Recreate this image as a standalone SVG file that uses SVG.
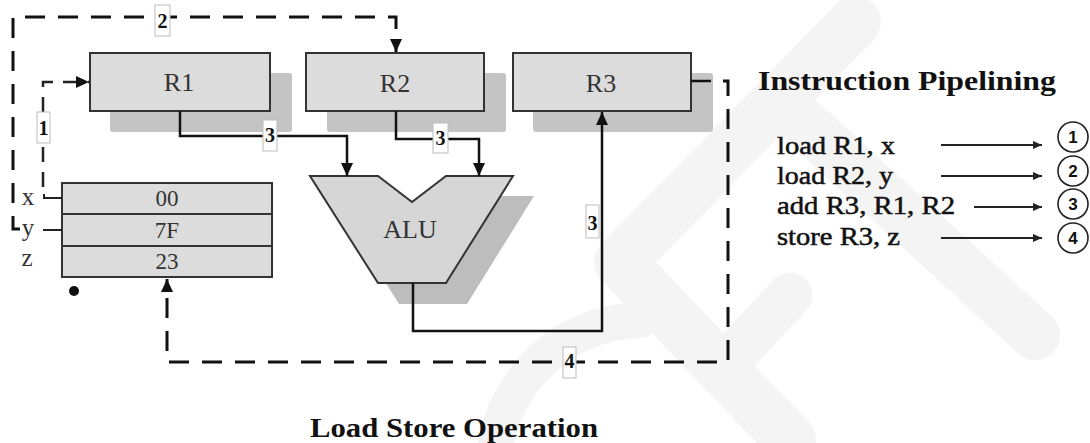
<svg xmlns="http://www.w3.org/2000/svg" width="1090" height="443" viewBox="0 0 1090 443">
<defs>
<style>
.wm{fill:none;stroke:#f4f4f4;stroke-linecap:round;stroke-linejoin:round}
.box{fill:#dcdcdc;stroke:#333;stroke-width:2}
.shadow{fill:#c4c4c4}
.mono{font-family:"Liberation Serif","DejaVu Serif",serif;fill:#333;text-anchor:middle}
.lbl{fill:#fff;stroke:#bbb;stroke-width:1}
.num{font-family:"Liberation Serif","DejaVu Serif",serif;font-weight:bold;font-size:20px;fill:#111;text-anchor:middle}
.solid{fill:none;stroke:#111;stroke-width:2.5}
.dash{fill:none;stroke:#111;stroke-width:3;stroke-dasharray:20 13}
.dash2{fill:none;stroke:#222;stroke-width:2.5;stroke-dasharray:15 10}
.thin{fill:none;stroke:#222;stroke-width:2}
.instr{font-family:"Liberation Serif","DejaVu Serif",serif;font-size:25px;fill:#111;stroke:#111;stroke-width:0.5}
.circ{fill:#fff;stroke:#222;stroke-width:1.6}
.cnum{font-family:"Liberation Sans","DejaVu Sans",sans-serif;font-weight:bold;font-size:17px;fill:#111;text-anchor:middle}
</style>
<marker id="ah" markerUnits="userSpaceOnUse" markerWidth="13" markerHeight="12" refX="13" refY="6" orient="auto">
<path d="M0,0 L13,6 L0,12 z" fill="#111"/>
</marker>
<marker id="ahs" markerUnits="userSpaceOnUse" markerWidth="9" markerHeight="8" refX="9" refY="4" orient="auto">
<path d="M0,0 L9,4 L0,8 z" fill="#222"/>
</marker>
</defs>
<rect width="1090" height="443" fill="#fff"/>

<g id="watermark">
<path class="wm" stroke-width="52" d="M855,22 L620,262 L790,440"/>
<path class="wm" stroke-width="50" d="M792,112 L1035,335"/>
<path class="wm" stroke-width="36" d="M495,450 A150,150 0 0 1 640,320"/>
<path class="wm" stroke-width="45" d="M790,295 L720,370"/>
</g>

<g id="R1">
<rect class="shadow" x="110" y="73" width="182" height="59" rx="3"/>
<rect class="box" x="90" y="53" width="180" height="58"/>
<text class="mono" x="179" y="91" font-size="26">R1</text>
</g>
<g id="R2">
<rect class="shadow" x="327" y="73" width="179" height="59" rx="3"/>
<rect class="box" x="306" y="53" width="178" height="58"/>
<text class="mono" x="395" y="92" font-size="26">R2</text>
</g>
<g id="R3">
<rect class="shadow" x="533" y="73" width="180" height="59" rx="3"/>
<rect class="box" x="513" y="53" width="178" height="58"/>
<text class="mono" x="601" y="92" font-size="26">R3</text>
</g>

<g id="ALU">
<polygon points="331,196 399,196 433,222 467,196 534,196 467,304 399,304" fill="#bdbdbd"/>
<polygon points="310,176 378,176 412,202 446,176 513,176 446,283 378,283" fill="#d6d6d6" stroke="#333" stroke-width="2"/>
<text class="mono" x="410" y="238" font-size="26">ALU</text>
</g>

<g id="memory">
<rect class="box" x="62" y="183" width="210" height="94"/>
<line x1="62" y1="214" x2="272" y2="214" stroke="#333" stroke-width="2"/>
<line x1="62" y1="246" x2="272" y2="246" stroke="#333" stroke-width="2"/>
<text class="mono" x="167" y="206" font-size="23">00</text>
<text class="mono" x="167" y="238" font-size="23">7F</text>
<text class="mono" x="167" y="269" font-size="23">23</text>
<text class="mono" x="28" y="205" font-size="25">x</text>
<text class="mono" x="28" y="236" font-size="25">y</text>
<text class="mono" x="27" y="266" font-size="25">z</text>
<circle cx="74" cy="291" r="5" fill="#111"/>
</g>

<g id="connectors">
<path class="thin" d="M62,198 H44 V194"/>
<path class="thin" d="M62,230 H43"/>
<path class="dash2" d="M43,187 V82 H89" marker-end="url(#ah)"/>
<path class="dash" d="M20,229 H13 V17 H396 V52" marker-end="url(#ah)"/>
<path class="solid" d="M180,111 V136 H347 V176" marker-end="url(#ah)"/>
<path class="solid" d="M396,111 V139 H479 V176" marker-end="url(#ah)"/>
<path class="solid" d="M413,283 V331 H602 V112" marker-end="url(#ah)"/>
<path class="solid" d="M691,81 H711"/>
<path class="dash" d="M723,81 H728 V362 H167 V279" marker-end="url(#ah)"/>
</g>

<g id="labels">
<rect class="lbl" x="155" y="5" width="15" height="31"/>
<text class="num" x="162.5" y="28">2</text>
<rect class="lbl" x="37" y="112" width="13" height="31"/>
<text class="num" x="43.5" y="135">1</text>
<rect class="lbl" x="263" y="120" width="14" height="31"/>
<text class="num" x="270" y="142">3</text>
<rect class="lbl" x="433" y="123" width="15" height="30"/>
<text class="num" x="440.5" y="145">3</text>
<rect class="lbl" x="586" y="205" width="13" height="33"/>
<text class="num" x="592.5" y="230">3</text>
<rect class="lbl" x="563" y="347" width="13" height="31"/>
<text class="num" x="569.5" y="368">4</text>
</g>

<g id="pipeline">
<text x="758" y="90" font-family="'Liberation Serif','DejaVu Serif',serif" font-weight="bold" font-size="28" fill="#111" textLength="298" lengthAdjust="spacingAndGlyphs">Instruction Pipelining</text>
<text class="instr" x="777" y="154" textLength="118" lengthAdjust="spacingAndGlyphs">load R1, x</text>
<text class="instr" x="777" y="184" textLength="116" lengthAdjust="spacingAndGlyphs">load R2, y</text>
<text class="instr" x="777" y="214" textLength="178" lengthAdjust="spacingAndGlyphs">add R3, R1, R2</text>
<text class="instr" x="777" y="245" textLength="123" lengthAdjust="spacingAndGlyphs">store R3, z</text>
<path class="thin" d="M941,145 H1042" marker-end="url(#ahs)"/>
<path class="thin" d="M941,176 H1042" marker-end="url(#ahs)"/>
<path class="thin" d="M974,207 H1042" marker-end="url(#ahs)"/>
<path class="thin" d="M941,238 H1042" marker-end="url(#ahs)"/>
<circle class="circ" cx="1073" cy="137" r="15"/>
<text class="cnum" x="1073" y="143">1</text>
<circle class="circ" cx="1073" cy="171" r="15"/>
<text class="cnum" x="1073" y="177">2</text>
<circle class="circ" cx="1073" cy="204" r="15"/>
<text class="cnum" x="1073" y="210">3</text>
<circle class="circ" cx="1073" cy="238" r="15"/>
<text class="cnum" x="1073" y="244">4</text>
</g>

<text x="310" y="437" font-family="'Liberation Serif','DejaVu Serif',serif" font-weight="bold" font-size="27" fill="#111" textLength="288" lengthAdjust="spacingAndGlyphs">Load Store Operation</text>
</svg>
